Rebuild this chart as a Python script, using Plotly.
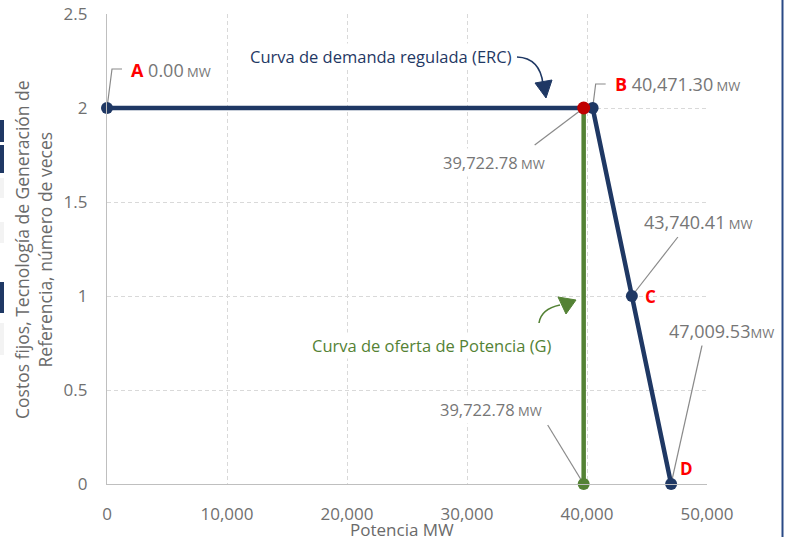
import plotly.graph_objects as go

# ---------------- data ----------------
demand_x = [0.0, 40471.30, 43740.41, 47009.53]     # A, B, C, D
demand_y = [2.0, 2.0, 1.0, 0.0]
demand_names = ["A", "B", "C", "D"]
supply_x = [39722.78, 39722.78]
supply_y = [0.0, 2.0]
x_ticks = [0, 10000, 20000, 30000, 40000, 50000]
y_ticks = [0, 0.5, 1, 1.5, 2, 2.5]
y_tick_labels = ["0", "0.5", "1", "1.5", "2", "2.5"]

NAVY = "#1f3864"
GREEN = "#548235"
RED = "#c00000"
LBL = "#767676"
TICK = "#707070"
FONT = "Open Sans"

W, H = 791, 537
L, R, T, B = 107, 707, 14, 484
XMAX, YMAX = 50000, 2.5


def px_to_x(px):
    return (px - L) / (R - L) * XMAX


def py_to_y(py):
    return (B - py) / (B - T) * YMAX


def off(x, y, dpx, dpy):
    """data point shifted by pixel offsets (dpy downwards)"""
    sx = XMAX / (R - L)
    sy = YMAX / (B - T)
    return x + dpx * sx, y - dpy * sy


def pxp(px, py):
    return (px - L) / (R - L), (B - py) / (B - T)


fig = go.Figure()

# demand curve
fig.add_trace(go.Scatter(x=demand_x, y=demand_y, mode="lines+markers",
                         line=dict(color=NAVY, width=4.5), cliponaxis=False,
                         marker=dict(color=NAVY, size=12), hoverinfo="skip",
                         showlegend=False))
# supply curve
fig.add_trace(go.Scatter(x=supply_x, y=supply_y, mode="lines", cliponaxis=False,
                         line=dict(color=GREEN, width=4.5), hoverinfo="skip",
                         showlegend=False))
fig.add_trace(go.Scatter(x=[supply_x[0]], y=[supply_y[0]], mode="markers",
                         cliponaxis=False,
                         marker=dict(color=GREEN, size=12), hoverinfo="skip",
                         showlegend=False))
# intersection
fig.add_trace(go.Scatter(x=[supply_x[1]], y=[supply_y[1]], mode="markers",
                         cliponaxis=False,
                         marker=dict(color=RED, size=13), hoverinfo="skip",
                         showlegend=False))

shapes = []
annotations = []


def leader(x, y, pts):
    path = "M %f,%f" % (x, y)
    for dpx, dpy in pts:
        qx, qy = off(x, y, dpx, dpy)
        path += " L %f,%f" % (qx, qy)
    shapes.append(dict(type="path", xref="x", yref="y", path=path,
                       line=dict(color="#8a8a8a", width=1.2), layer="between"))


def mw_label(x, y, text, xs, ys, anchor, size=18, letter=None):
    t = ""
    if letter:
        t += "<b><span style='color:#ff0000'>%s</span></b> " % letter
    t += "%s<span style='font-size:13px'> MW</span>" % text
    annotations.append(dict(x=x, y=y, xref="x", yref="y", text=t,
                            showarrow=False, xanchor=anchor, yanchor="middle",
                            xshift=xs, yshift=ys, bgcolor="white", borderpad=2,
                            font=dict(family=FONT, size=size, color=LBL)))


def letter_label(x, y, letter, xs, ys):
    annotations.append(dict(x=x, y=y, xref="x", yref="y",
                            text="<b>%s</b>" % letter, showarrow=False,
                            xanchor="left", yanchor="middle", xshift=xs, yshift=ys,
                            font=dict(family=FONT, size=17, color="#ff0000")))


Ax, Ay = demand_x[0], demand_y[0]
Bx, By = demand_x[1], demand_y[1]
Cx, Cy = demand_x[2], demand_y[2]
Dx, Dy = demand_x[3], demand_y[3]
Sx, Sy = supply_x[1], supply_y[1]
Gx, Gy = supply_x[0], supply_y[0]

# A
leader(Ax, Ay, [(5, -39), (15, -39)])
mw_label(Ax, Ay, "%.2f" % Ax, 21, 38, "left", letter=demand_names[0])
# B
leader(Bx, By, [(3, -24), (13, -24)])
mw_label(Bx, By, "{:,.2f}".format(Bx), 19, 24, "left", letter=demand_names[1])
# intersection (upper)
leader(Sx, Sy, [(-49, 37)])
mw_label(Sx, Sy, "{:,.2f}".format(Sx), -36, -54, "right", size=16.5)
# C
leader(Cx, Cy, [(46, -59)])
mw_label(Cx, Cy, "{:,.2f}".format(Cx), 9, 74, "left")
letter_label(Cx, Cy, demand_names[2], 11, 0)
# D
leader(Dx, Dy, [(31, -139)])
annotations.append(dict(x=Dx, y=Dy, xref="x", yref="y",
                        text="{:,.2f}".format(Dx) + "<span style='font-size:13px'>MW</span>",
                        showarrow=False, xanchor="left", yanchor="middle",
                        xshift=-5, yshift=153, bgcolor="white", borderpad=2,
                        font=dict(family=FONT, size=18, color=LBL)))
letter_label(Dx, Dy, demand_names[3], 7, 16)
# supply bottom
leader(Gx, Gy, [(-36, -59)])
mw_label(Gx, Gy, "{:,.2f}".format(Gx), -39, 75, "right", size=16.5)

# curve labels
px, py = pxp(514, 57)
annotations.append(dict(x=px, y=py, xref="paper", yref="paper",
                        text="Curva de demanda regulada (ERC)", showarrow=False,
                        xanchor="right", yanchor="middle", bgcolor="white",
                        font=dict(family=FONT, size=16.5, color=NAVY)))
px, py = pxp(554, 345)
annotations.append(dict(x=px, y=py, xref="paper", yref="paper",
                        text="Curva de oferta de Potencia (G)", showarrow=False,
                        xanchor="right", yanchor="middle", bgcolor="white",
                        font=dict(family=FONT, size=16.5, color=GREEN)))


def ppath(cmds):
    out = []
    for c in cmds:
        if isinstance(c, str):
            out.append(c)
        else:
            out.append("%f,%f" % (px_to_x(c[0]), py_to_y(c[1])))
    return " ".join(out)


# curved arrow ERC
shapes.append(dict(type="path", xref="x", yref="y",
                   path=ppath(["M", (517, 57), "Q", (540, 58), (543, 84)]),
                   line=dict(color=NAVY, width=1.6), layer="above"))
shapes.append(dict(type="path", xref="x", yref="y",
                   path=ppath(["M", (535, 83), "L", (552, 80), "L", (546, 98), "Z"]),
                   line=dict(color=NAVY, width=1), fillcolor=NAVY, layer="above"))
# curved arrow G
shapes.append(dict(type="path", xref="x", yref="y",
                   path=ppath(["M", (539, 323), "Q", (541, 309), (560, 305)]),
                   line=dict(color=GREEN, width=1.6), layer="above"))
shapes.append(dict(type="path", xref="x", yref="y",
                   path=ppath(["M", (558, 297), "L", (566, 314), "L", (576, 300), "Z"]),
                   line=dict(color=GREEN, width=1), fillcolor=GREEN, layer="above"))

# axis titles
px, py = pxp(33, 250)
annotations.append(dict(x=px, y=py, xref="paper", yref="paper",
                        text="Costos fijos, Tecnología de Generación de<br>Referencia, número de veces",
                        showarrow=False, textangle=-90, xanchor="center", yanchor="middle",
                        font=dict(family=FONT, size=17.5, color="#6a6a6a")))
px, py = pxp(402, 529)
annotations.append(dict(x=px, y=py, xref="paper", yref="paper",
                        text="Potencia MW", showarrow=False,
                        xanchor="center", yanchor="middle",
                        font=dict(family=FONT, size=17, color="#6a6a6a")))

# frame artefacts at image edges
def edge_rect(px0, py0, px1, py1, color):
    x0, y0 = pxp(px0, py0)
    x1, y1 = pxp(px1, py1)
    shapes.append(dict(type="rect", xref="paper", yref="paper", x0=x0, x1=x1,
                       y0=y0, y1=y1, fillcolor=color, line=dict(width=0),
                       layer="above"))


edge_rect(0, 120, 4, 142, NAVY)
edge_rect(0, 145, 4, 173, NAVY)
edge_rect(0, 282, 4, 313, NAVY)
edge_rect(0, 178, 4, 198, "#f3f3f3")
edge_rect(0, 222, 4, 243, "#f3f3f3")
edge_rect(0, 323, 4, 355, "#f3f3f3")
edge_rect(781.5, -5, 783.5, 545, "#2a4a86")

fig.update_layout(
    width=W, height=H,
    margin=dict(l=L, r=W - R, t=T, b=H - B, autoexpand=False),
    paper_bgcolor="white", plot_bgcolor="white",
    showlegend=False,
    shapes=shapes, annotations=annotations,
    xaxis=dict(range=[0, XMAX], tickvals=x_ticks, tickformat=",", automargin=False,
               showgrid=True, gridcolor="#d9d9d9", griddash="4px,3px", gridwidth=1,
               showline=True, linecolor="#bfbfbf", linewidth=1.3,
               zeroline=False, ticks="", ticklabelstandoff=14,
               tickfont=dict(family=FONT, size=17, color=TICK), fixedrange=True),
    yaxis=dict(range=[0, YMAX], tickvals=y_ticks, ticktext=y_tick_labels, automargin=False,
               showgrid=True, gridcolor="#d9d9d9", griddash="4px,3px", gridwidth=1,
               showline=True, linecolor="#bfbfbf", linewidth=1.3,
               zeroline=False, ticks="", ticklabelstandoff=15,
               tickfont=dict(family=FONT, size=17, color=TICK), fixedrange=True),
)

fig.write_html("out.html", config={"displayModeBar": False},
               post_script="document.body.style.margin='0px';document.body.style.overflow='hidden';")
